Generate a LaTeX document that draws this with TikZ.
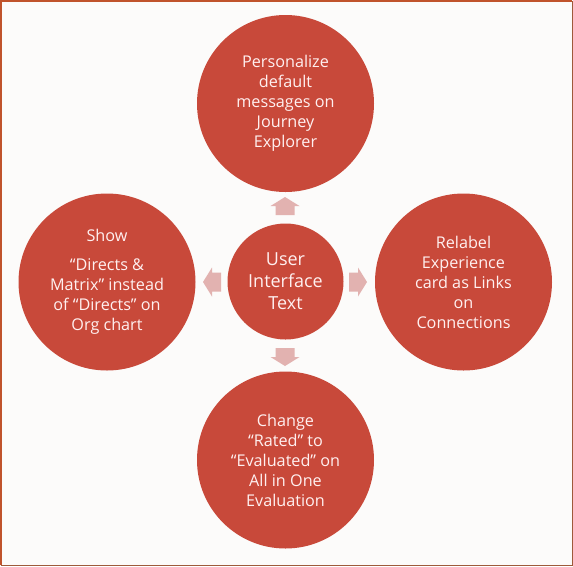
\documentclass[tikz,border=0pt]{standalone}
\usepackage{fontspec}
\setmainfont{Open Sans}
\definecolor{bgc}{HTML}{FCFBFA}
\definecolor{circc}{HTML}{C8493A}
\definecolor{txtc}{HTML}{FFF0F0}
\definecolor{arrc}{HTML}{E2B2B0}
\definecolor{brdA}{HTML}{C0532C}
\definecolor{brdB}{HTML}{9E5A3A}
\tikzset{
  bubble/.style={circle, fill=circc, draw=none, text=txtc, minimum size=177pt, inner sep=0pt, align=center, font=\fontsize{16.2}{20}\selectfont},
  hub/.style={circle, fill=circc, draw=none, text=txtc, minimum size=116pt, inner sep=0pt, align=center, font=\fontsize{18}{22}\selectfont},
  blockarr/.pic={\fill[arrc] (0,-9.5) -- (9,-9.5) -- (9,-14.5) -- (18,0) -- (9,14.5) -- (9,9.5) -- (0,9.5) -- cycle;}
}
\begin{document}
\begin{tikzpicture}[x=1pt,y=-1pt]
\useasboundingbox (0,0) rectangle (573,566);
\fill[bgc] (0,0) rectangle (573,566);
\draw[brdA, line width=1.5pt] (0.75,565.25) -- (0.75,0.75) -- (572.25,0.75);
\draw[brdB, line width=1.5pt] (572.25,0.75) -- (572.25,565.25) -- (0.75,565.25);

\node[hub] (hub) at (285.5,281.5) {User\\Interface\\Text};
\node[bubble] (top) at (285.5,103.5) {Personalize\\default\\messages on\\Journey\\Explorer};
\node[bubble] (left) at (107,282) {Show\\[9pt]\textquotedblleft Directs \&\\Matrix\textquotedblright\ instead\\of \textquotedblleft Directs\textquotedblright\ on\\Org chart};
\node[bubble] (right) at (463.5,282) {Relabel\\Experience\\card as Links\\on\\Connections};
\node[bubble] (bottom) at (285.5,460) {Change\\\textquotedblleft Rated\textquotedblright\ to\\\textquotedblleft Evaluated\textquotedblright\ on\\All in One\\Evaluation};

\pic[rotate=90] at (285,215) {blockarr};
\pic[rotate=-90] at (285,348) {blockarr};
\pic[rotate=180] at (221,282) {blockarr};
\pic at (349,282) {blockarr};
\end{tikzpicture}
\end{document}
